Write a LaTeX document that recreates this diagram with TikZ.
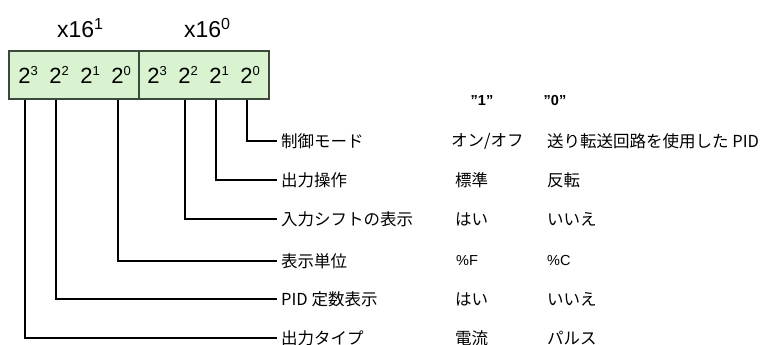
\documentclass[tikz,border=0pt]{standalone}
\usepackage{fontspec}
\setmainfont{Liberation Sans}
\newfontfamily\jp{Noto Sans CJK JP}
\definecolor{bitfill}{HTML}{D9F2D0}
\definecolor{bitedge}{HTML}{3B4A3B}
\newcommand\hisup[2][13]{\raisebox{8pt}{\fontsize{#1}{#1}\selectfont#2}}
\tikzset{
  nib/.style={draw=bitedge,fill=bitfill,line width=1.2pt,minimum width=130pt,minimum height=48pt,inner sep=0pt},
  bit/.style={font=\fontsize{22}{24}\selectfont,inner sep=0pt},
  hdr/.style={font=\fontsize{23}{26}\selectfont},
  lbl/.style={anchor=west,inner sep=4pt,font=\fontsize{16.5}{18}\selectfont\jp},
  val/.style={anchor=west,inner sep=0pt,font=\fontsize{16.5}{18}\selectfont\jp},
  pct/.style={anchor=west,inner sep=0pt,font=\fontsize{14.5}{16}\selectfont},
  colhd/.style={font=\fontsize{14.5}{16}\selectfont\bfseries},
  lead/.style={line width=2pt}
}
\begin{document}
\begin{tikzpicture}[x=1pt,y=-1pt]
\useasboundingbox (0,0) rectangle (760,345);
% the two nibbles
\node[nib] (hi) at (74,75) {};
\node[nib] (lo) at (204,75) {};
\node[hdr] (xh) at (80,28) {x16\hisup[16]{1}};
\node[hdr] (xl) at (207,28) {x16\hisup[16]{0}};
\foreach \e [count=\i] in {3,2,1,0} {
  \node[bit] (h\e) at (-3+31*\i,75) {2\hisup{\e}};
  \node[bit] (l\e) at (126+31*\i,75) {2\hisup{\e}};
}
% meanings
\node[lbl] (mode) at (277,141) {制御モード};
\node[lbl] (oper) at (277,180) {出力操作};
\node[lbl] (shft) at (277,219) {入力シフトの表示};
\node[lbl] (unit) at (277,261) {表示単位};
\node[lbl] (pidc) at (277,299) {PID 定数表示};
\node[lbl] (otyp) at (277,338) {出力タイプ};
% leads
\draw[lead] ([xshift=-3pt]l0.center |- lo.south) |- (mode.west);
\draw[lead] ([xshift=-3pt]l1.center |- lo.south) |- (oper.west);
\draw[lead] ([xshift=-3pt]l2.center |- lo.south) |- (shft.west);
\draw[lead] ([xshift=-3pt]h0.center |- hi.south) |- (unit.west);
\draw[lead] ([xshift=-3pt]h2.center |- hi.south) |- (pidc.west);
\draw[lead] ([xshift=-3pt]h3.center |- hi.south) |- (otyp.west);
% "1" / "0" columns
\node[colhd] (one) at (482,101) {\symbol{34}1\symbol{34}};
\node[colhd] (zero) at (555,101) {\symbol{34}0\symbol{34}};
\node[val] (m1) at (451,141) {オン/オフ};
\node[val] (m0) at (547,141) {送り転送回路を使用した PID};
\node[val] (o1) at (455,180) {標準};
\node[val] (o0) at (547,180) {反転};
\node[val] (s1) at (455,219) {はい};
\node[val] (s0) at (547,219) {いいえ};
\node[pct] (u1) at (456,261) {\%F};
\node[pct] (u0) at (547,261) {\%C};
\node[val] (p1) at (455,299) {はい};
\node[val] (p0) at (547,299) {いいえ};
\node[val] (t1) at (455,338) {電流};
\node[val] (t0) at (547,338) {パルス};
\end{tikzpicture}
\end{document}
